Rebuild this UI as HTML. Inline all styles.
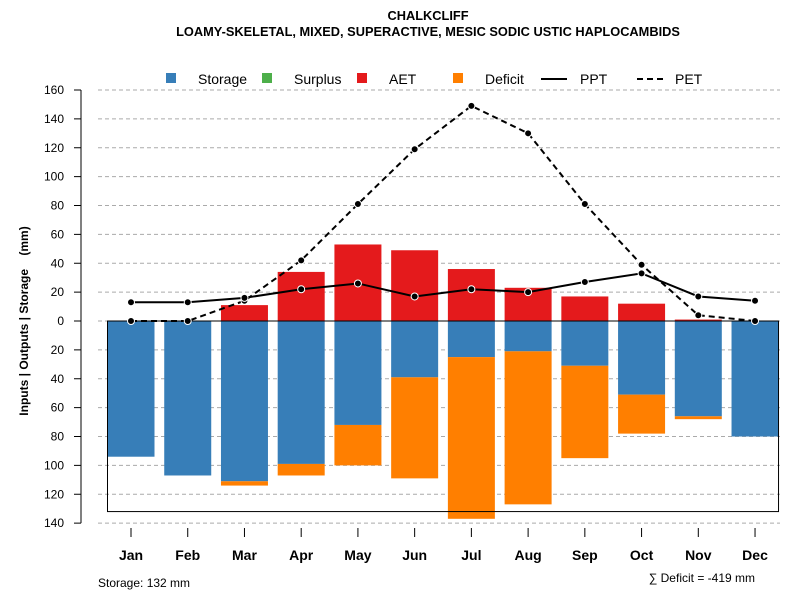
<!DOCTYPE html>
<html><head><meta charset="utf-8"><style>
body{margin:0;background:#fff;font-family:"Liberation Sans",sans-serif}
</style></head><body>
<svg id="c" width="800" height="600" xmlns="http://www.w3.org/2000/svg" font-family="Liberation Sans, sans-serif">
<text x="428" y="20" text-anchor="middle" font-size="12.8" font-weight="bold">CHALKCLIFF</text>
<text x="428" y="36" text-anchor="middle" font-size="12.8" font-weight="bold">LOAMY-SKELETAL, MIXED, SUPERACTIVE, MESIC SODIC USTIC HAPLOCAMBIDS</text>
<text transform="translate(28,321) rotate(-90)" text-anchor="middle" font-size="12" font-weight="bold" xml:space="preserve">Inputs | Outputs | Storage    (mm)</text>
<text x="98" y="587" font-size="12">Storage: 132 mm</text>
<text x="755" y="582" text-anchor="end" font-size="12">∑ Deficit = -419 mm</text>
<g id="legend" font-size="14">
<rect x="166" y="73" width="10" height="10" fill="#377EB8"/><text x="198" y="84">Storage</text>
<rect x="262" y="73" width="10" height="10" fill="#4DAF4A"/><text x="294" y="84">Surplus</text>
<rect x="357" y="73" width="10" height="10" fill="#E41A1C"/><text x="389" y="84">AET</text>
<rect x="453" y="73" width="10" height="10" fill="#FF7F00"/><text x="485" y="84">Deficit</text>
<line x1="541" y1="79" x2="567" y2="79" stroke="#000" stroke-width="2"/><text x="580" y="84">PPT</text>
<line x1="637" y1="79" x2="663" y2="79" stroke="#000" stroke-width="2" stroke-dasharray="6,4"/><text x="675" y="84">PET</text>
</g>
</svg>
<script>
const months=["Jan","Feb","Mar","Apr","May","Jun","Jul","Aug","Sep","Oct","Nov","Dec"];
const ppt=[13,13,16,22,26,17,22,20,27,33,17,14];
const pet=[0,0,14,42,81,119,149,130,81,39,4,0];
const aet=[0,0,11,34,53,49,36,23,17,12,1,0];
const storage=[94,107,111,99,72,39,25,21,31,51,66,80];
const deficit=[0,0,3,8,28,70,112,106,64,27,2,0];
const storageCap=132;
const yTicks=[160,140,120,100,80,60,40,20,0,20,40,60,80,100,120,140];
const NS="http://www.w3.org/2000/svg";
const svg=document.getElementById('c');
const y0=321,k=231/160;
const yUp=v=>y0-v*k, yDn=v=>y0+v*k;
const xC=i=>131+i*56.73;
const bw=47;
function mk(t,a){const e=document.createElementNS(NS,t);for(const n in a)e.setAttribute(n,a[n]);svg.appendChild(e);return e;}
yTicks.forEach((v,i)=>{const y=i<=8?yUp(v):yDn(v);
 const g=mk('line',{x1:98,x2:780,y1:y,y2:y,stroke:'#aaa','stroke-dasharray':'4,3'});
 
 
 const t=mk('line',{x1:74,x2:81,y1:y,y2:y,stroke:'#000'});
 
 
 const l=mk('text',{x:64,y:y+4,'text-anchor':'end','font-size':12});l.textContent=v;
 
 
});
const ax=mk('line',{x1:81,x2:81,y1:yUp(160),y2:yDn(140),stroke:'#000'});


months.forEach((m,i)=>{
 const r=mk('rect',{x:xC(i)-bw/2,y:yUp(aet[i]),width:bw,height:aet[i]*k,fill:'#E41A1C'});
 
 
 const s=mk('rect',{x:xC(i)-bw/2,y:y0,width:bw,height:storage[i]*k,fill:'#377EB8'});
 
 
 const d=mk('rect',{x:xC(i)-bw/2,y:yDn(storage[i]),width:bw,height:deficit[i]*k,fill:'#FF7F00'});
 
 
 const t=mk('line',{x1:xC(i),x2:xC(i),y1:528,y2:537,stroke:'#000'});
 
 
 const l=mk('text',{x:xC(i),y:560,'text-anchor':'middle','font-size':14,'font-weight':'bold'});l.textContent=m;
 
 
});
const box=mk('rect',{x:xC(0)-bw/2,y:y0,width:xC(11)-xC(0)+bw,height:storageCap*k,fill:'none',stroke:'#000'});


const xl=mk('line',{x1:xC(0)-bw/2,x2:xC(11)+bw/2,y1:y0,y2:y0,stroke:'#000'});


function series(arr,name,dash){
 const p=mk('polyline',{points:arr.map((v,i)=>xC(i)+','+yUp(v)).join(' '),fill:'none',stroke:'#000','stroke-width':2,'stroke-dasharray':dash});
 
 
 arr.forEach((v,i)=>{const c=mk('circle',{cx:xC(i),cy:yUp(v),r:3.5,fill:'#000',stroke:'#fff','stroke-width':1});
 
 });
}
series(pet,'pet','6,4');
series(ppt,'ppt','none');
</script>
</body></html>
